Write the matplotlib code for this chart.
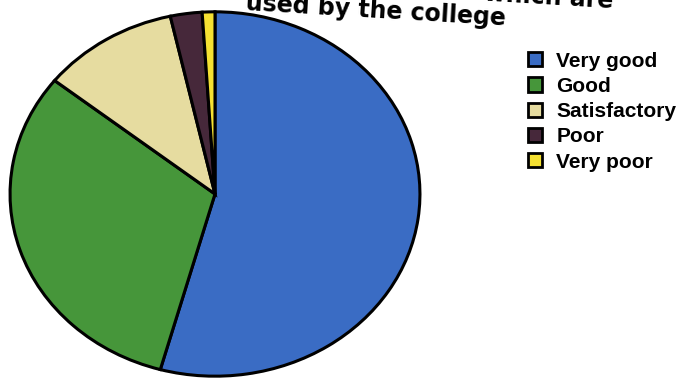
import matplotlib
matplotlib.use("Agg")
import matplotlib.pyplot as plt

categories = ["Very good", "Good", "Satisfactory", "Poor", "Very poor"]
values = [54.3, 31.4, 10.8, 2.5, 1.0]
colors = ["#3a6cc4", "#46963a", "#e6dca0", "#46283a", "#f5e132"]
title_line1 = "Facilities which are"
title_line2 = "used by the college"

fig = plt.figure(figsize=(6.8, 3.8), dpi=100)
fig.patch.set_facecolor("white")

ax = fig.add_axes([8/680, 2/380, 414/680, 368/380])
wedges, _ = ax.pie(values, colors=colors, startangle=90, counterclock=False,
                   wedgeprops=dict(edgecolor="black", linewidth=2.2))
ax.set_aspect("auto")
ax.set_xlim(-1.01, 1.01)
ax.set_ylim(-1.01, 1.01)
ax.axis("off")

fig.text(613/680, 1 - 8/380, title_line1, ha="right", va="baseline",
         rotation=-3.4, rotation_mode="anchor", fontsize=17, fontweight="bold",
         family="DejaVu Sans")
fig.text(505/680, 1 - 25/380, title_line2, ha="right", va="baseline",
         rotation=-3.4, rotation_mode="anchor", fontsize=17, fontweight="bold",
         family="DejaVu Sans")

leg = fig.legend(wedges, categories, loc="upper left",
                 bbox_to_anchor=(513/680, 1 - 37/380),
                 frameon=False, prop=dict(family="Liberation Sans", size=15, weight="bold"),
                 handlelength=0.68, handleheight=0.68, handletextpad=0.7,
                 labelspacing=0.3, borderpad=0.2)
for h in leg.legend_handles:
    h.set_edgecolor("black")
    h.set_linewidth(2.0)

fig.savefig("out.png", dpi=100, facecolor="white")
